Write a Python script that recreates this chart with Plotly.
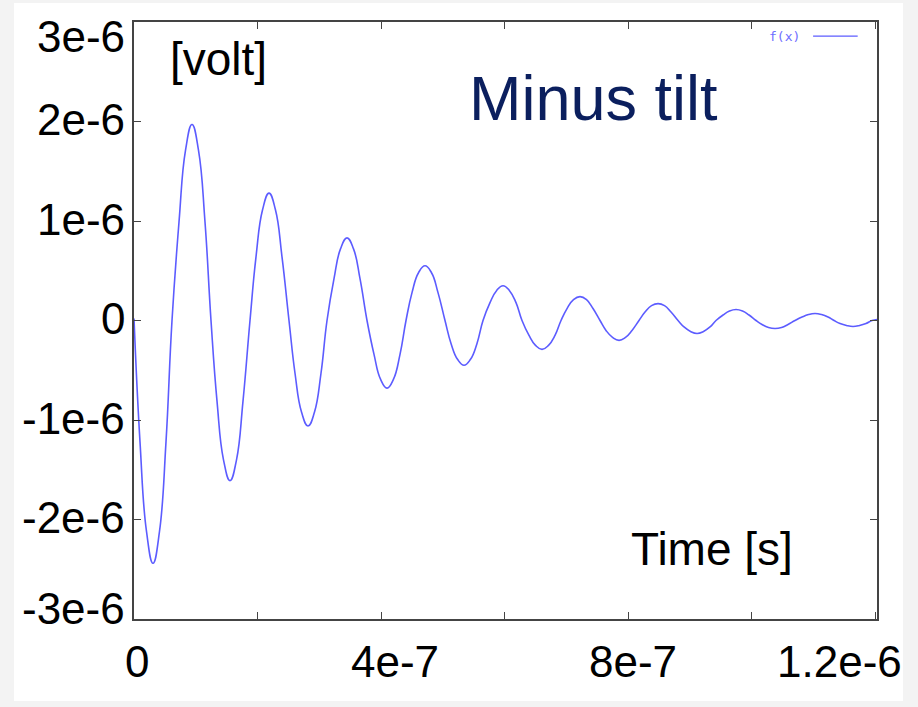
import plotly.graph_objects as go

# ---- data (time in s, signal in volt) ----
time_s = [
    0.0, 0.0972e-7, 0.2024e-7, 0.3077e-7, 0.4130e-7, 0.5182e-7, 0.6154e-7,
    0.7288e-7, 0.8340e-7, 0.9393e-7, 1.0446e-7, 1.1498e-7, 1.2470e-7,
    1.3442e-7, 1.4494e-7, 1.5547e-7, 1.6600e-7, 1.7652e-7, 1.8785e-7,
    1.9757e-7, 2.0809e-7, 2.1862e-7, 2.2915e-7, 2.3967e-7, 2.5101e-7,
    2.6073e-7, 2.7125e-7, 2.8178e-7, 2.9231e-7, 3.0283e-7, 3.1255e-7,
    3.2389e-7, 3.3441e-7, 3.4494e-7, 3.5547e-7, 3.6599e-7, 3.7733e-7,
    3.8867e-7, 3.9919e-7, 4.0972e-7, 4.2025e-7, 4.3077e-7, 4.4049e-7,
    4.5021e-7, 4.6073e-7, 4.7126e-7, 4.8179e-7, 4.9231e-7, 5.0364e-7,
    5.1336e-7, 5.2388e-7, 5.3441e-7, 5.4494e-7, 5.5546e-7, 5.6518e-7,
    5.7652e-7, 5.8704e-7, 5.9757e-7, 6.0810e-7, 6.1862e-7, 6.2834e-7,
    6.3968e-7, 6.5020e-7, 6.6073e-7, 6.7126e-7, 6.8178e-7, 6.9150e-7,
    7.0122e-7, 7.1174e-7, 7.2227e-7, 7.3280e-7, 7.4332e-7, 7.5466e-7,
    7.6438e-7, 7.7490e-7, 7.8543e-7, 7.9596e-7, 8.0648e-7, 8.1781e-7,
    8.2753e-7, 8.3805e-7, 8.4858e-7, 8.5911e-7, 8.6963e-7, 8.8097e-7,
    8.9069e-7, 9.0121e-7, 9.1174e-7, 9.2227e-7, 9.3279e-7, 9.4251e-7,
    9.5385e-7, 9.6437e-7, 9.7490e-7, 9.8543e-7, 9.9595e-7, 10.0729e-7,
    10.1701e-7, 10.2753e-7, 10.3806e-7, 10.4859e-7, 10.5911e-7, 10.7045e-7,
    10.8178e-7, 10.9230e-7, 11.0283e-7, 11.1336e-7, 11.2388e-7, 11.3360e-7,
    11.4332e-7, 11.5384e-7, 11.6437e-7, 11.7490e-7, 11.8542e-7, 11.9514e-7,
    12.0324e-7,
]
volt = [
    0.02e-6, -1.22e-6, -2.12e-6, -2.44e-6, -2.12e-6, -1.22e-6, 0.0,
    0.99e-6, 1.71e-6, 1.97e-6, 1.71e-6, 0.99e-6, 0.0,
    -0.81e-6, -1.40e-6, -1.61e-6, -1.40e-6, -0.81e-6, 0.0,
    0.64e-6, 1.11e-6, 1.28e-6, 1.11e-6, 0.64e-6, 0.0,
    -0.53e-6, -0.92e-6, -1.06e-6, -0.92e-6, -0.53e-6, 0.0,
    0.42e-6, 0.72e-6, 0.83e-6, 0.72e-6, 0.42e-6, 0.0,
    -0.34e-6, -0.59e-6, -0.68e-6, -0.59e-6, -0.34e-6, 0.0,
    0.28e-6, 0.48e-6, 0.55e-6, 0.48e-6, 0.28e-6, 0.0,
    -0.23e-6, -0.39e-6, -0.45e-6, -0.39e-6, -0.23e-6, 0.0,
    0.18e-6, 0.30e-6, 0.35e-6, 0.30e-6, 0.18e-6, 0.0,
    -0.15e-6, -0.25e-6, -0.29e-6, -0.25e-6, -0.15e-6, 0.0,
    0.12e-6, 0.21e-6, 0.24e-6, 0.21e-6, 0.12e-6, 0.0,
    -0.10e-6, -0.17e-6, -0.20e-6, -0.17e-6, -0.10e-6, 0.0,
    0.085e-6, 0.15e-6, 0.17e-6, 0.15e-6, 0.085e-6, 0.0,
    -0.065e-6, -0.11e-6, -0.13e-6, -0.11e-6, -0.065e-6, 0.0,
    0.055e-6, 0.095e-6, 0.11e-6, 0.095e-6, 0.055e-6, 0.0,
    -0.04e-6, -0.07e-6, -0.08e-6, -0.07e-6, -0.04e-6, 0.0,
    0.035e-6, 0.06e-6, 0.07e-6, 0.06e-6, 0.035e-6, 0.0,
    -0.03e-6, -0.05e-6, -0.06e-6, -0.05e-6, -0.03e-6, 0.0,
    0.01e-6,
]

x_tick_vals = [0, 2e-7, 4e-7, 6e-7, 8e-7, 1.0e-6, 1.2e-6]
x_label_vals = [0, 4e-7, 8e-7, 1.2e-6]
x_label_text = ["0", "4e-7", "8e-7", "1.2e-6"]
y_tick_vals = [-3e-6, -2e-6, -1e-6, 0, 1e-6, 2e-6, 3e-6]
y_label_text = ["-3e-6", "-2e-6", "-1e-6", "0", "1e-6", "2e-6", "3e-6"]

# ---- style ----
FONT = "Liberation Sans, Arial, sans-serif"
LINE_COLOR = "#5c5cff"
AXIS_COLOR = "#444444"
x_label_shift = {"0": 3, "4e-7": 14, "8e-7": 5, "1.2e-6": -36}
y_label_shift = {"3e-6": -14, "-3e-6": 11}

fig = go.Figure()
fig.add_trace(go.Scatter(
    x=time_s, y=volt, mode="lines", name="f(x)",
    line=dict(color=LINE_COLOR, width=1.6, shape="spline", smoothing=1.3),
    showlegend=False,
))

axis_common = dict(
    showgrid=False, zeroline=False, showline=True, linecolor=AXIS_COLOR,
    linewidth=1.5, mirror="ticks", ticks="inside", ticklen=7,
    tickcolor=AXIS_COLOR, tickwidth=1.2, showticklabels=False,
)
fig.update_xaxes(range=[0, 1.2032e-6], tickmode="array", tickvals=x_tick_vals,
                 **axis_common)
fig.update_yaxes(range=[-3e-6, 3e-6], tickmode="array", tickvals=y_tick_vals,
                 **axis_common)

annotations = []
for v, t in zip(x_label_vals, x_label_text):
    annotations.append(dict(
        x=v, y=0, xref="x", yref="paper", text=t, showarrow=False,
        xanchor="center", yanchor="middle", yshift=-42,
        xshift=x_label_shift.get(t, 0),
        font=dict(family=FONT, size=44, color="black")))
for v, t in zip(y_tick_vals, y_label_text):
    annotations.append(dict(
        x=0, y=v, xref="paper", yref="y", text=t, showarrow=False,
        xanchor="right", yanchor="middle", xshift=-7,
        yshift=y_label_shift.get(t, 2),
        font=dict(family=FONT, size=44, color="black")))

annotations += [
    dict(x=0.0458, y=0.938, xref="paper", yref="paper", text="[volt]",
         showarrow=False, xanchor="left", yanchor="middle",
         font=dict(family=FONT, size=46, color="black")),
    dict(x=0.619, y=0.872, xref="paper", yref="paper", text="Minus tilt",
         showarrow=False, xanchor="center", yanchor="middle",
         font=dict(family=FONT, size=63, color="#0b1f5e")),
    dict(x=0.7786, y=0.118, xref="paper", yref="paper", text="Time [s]",
         showarrow=False, xanchor="center", yanchor="middle",
         font=dict(family=FONT, size=46, color="black")),
    dict(x=0.899, y=0.9765, xref="paper", yref="paper", text="f(x)",
         showarrow=False, xanchor="right", yanchor="middle",
         font=dict(family="DejaVu Sans Mono, monospace", size=13, color="#6e6eff")),
]

shapes = [
    dict(type="rect", xref="paper", yref="paper", x0=-0.1615, x1=1.035,
         y0=-0.1374, y1=1.0318, fillcolor="white", line=dict(width=0),
         layer="below"),
    dict(type="line", xref="paper", yref="paper", x0=0.914, x1=0.974,
         y0=0.9765, y1=0.9765, line=dict(color=LINE_COLOR, width=1.3)),
]

fig.update_layout(
    width=918, height=707,
    margin=dict(l=134, r=41, t=22, b=88),
    paper_bgcolor="#f3f3f3", plot_bgcolor="white",
    annotations=annotations, shapes=shapes,
    showlegend=False,
)

fig.write_html("out.html")
